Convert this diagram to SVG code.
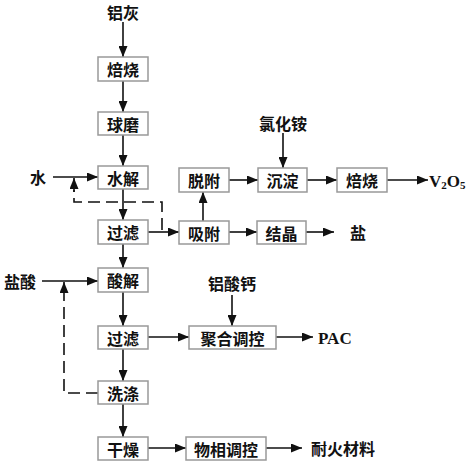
<svg xmlns="http://www.w3.org/2000/svg" width="474" height="464" viewBox="0 0 474 464">
<style>
.box{fill:#fff;stroke:#999;stroke-width:1.5}
.t{font-family:"Noto Sans CJK SC","Noto Sans",sans-serif;font-size:16px;font-weight:bold;fill:#111;text-anchor:middle;dominant-baseline:central}
.s{font-family:"Liberation Serif",serif;font-size:17px;font-weight:bold;fill:#111;dominant-baseline:central}
.ln{stroke:#111;stroke-width:1.6;fill:none}
.ar{marker-end:url(#ah)}
.d{stroke-dasharray:12,6}
</style>
<defs>
<marker id="ah" markerWidth="11" markerHeight="9" refX="11" refY="4.5" orient="auto" markerUnits="userSpaceOnUse">
<path d="M0,0 L11,4.5 L0,9 Z" fill="#111"/>
</marker>
</defs>
<rect width="474" height="464" fill="#fff"/>
<g id="connectors">
<line class="ln ar" x1="123" y1="22" x2="123" y2="57"/>
<line class="ln ar" x1="123" y1="81" x2="123" y2="112"/>
<line class="ln ar" x1="123" y1="135" x2="123" y2="166"/>
<line class="ln ar" x1="53" y1="177" x2="98" y2="177"/>
<line class="ln ar" x1="123" y1="189" x2="123" y2="220"/>
<line class="ln ar" x1="148" y1="232" x2="179" y2="232"/>
<polyline class="ln d" points="162,230 162,202 74,202 74,190"/>
<line class="ln ar" x1="74" y1="192" x2="74" y2="178"/>
<line class="ln ar" x1="203" y1="221" x2="203" y2="192"/>
<line class="ln ar" x1="229" y1="180" x2="258" y2="180"/>
<line class="ln ar" x1="283" y1="133" x2="283" y2="168"/>
<line class="ln ar" x1="307" y1="180" x2="337" y2="180"/>
<line class="ln ar" x1="387" y1="180" x2="428" y2="180"/>
<line class="ln ar" x1="229" y1="232" x2="257" y2="232"/>
<line class="ln ar" x1="306" y1="232" x2="334" y2="232"/>
<line class="ln ar" x1="123" y1="244" x2="123" y2="268"/>
<line class="ln ar" x1="42" y1="281" x2="98" y2="281"/>
<line class="ln ar" x1="123" y1="292" x2="123" y2="326"/>
<line class="ln ar" x1="148" y1="337" x2="189" y2="337"/>
<line class="ln ar" x1="232" y1="295" x2="232" y2="326"/>
<line class="ln ar" x1="276" y1="337" x2="313" y2="337"/>
<line class="ln ar" x1="123" y1="349" x2="123" y2="381"/>
<polyline class="ln d" points="98,393 64,393 64,296"/>
<line class="ln ar" x1="64" y1="296" x2="64" y2="282"/>
<line class="ln ar" x1="123" y1="404" x2="123" y2="437"/>
<line class="ln ar" x1="148" y1="448" x2="186" y2="448"/>
<line class="ln ar" x1="266" y1="448" x2="302" y2="448"/>
</g>
<g id="lvhui"><text class="t" x="123" y="12">铝灰</text></g>
<g id="beishao1"><rect class="box" x="98" y="57" width="50" height="24"/><text class="t" x="123" y="69">焙烧</text></g>
<g id="qiumo"><rect class="box" x="98" y="112" width="50" height="23"/><text class="t" x="123" y="123.5">球磨</text></g>
<g id="shui"><text class="t" x="38" y="177">水</text></g>
<g id="shuijie"><rect class="box" x="98" y="166" width="50" height="23"/><text class="t" x="123" y="177.5">水解</text></g>
<g id="guolv1"><rect class="box" x="98" y="220" width="50" height="24"/><text class="t" x="123" y="232">过滤</text></g>
<g id="xifu"><rect class="box" x="179" y="221" width="50" height="23"/><text class="t" x="204" y="232.5">吸附</text></g>
<g id="tuofu"><rect class="box" x="179" y="168" width="50" height="24"/><text class="t" x="204" y="180">脱附</text></g>
<g id="lvhuaan"><text class="t" x="283" y="123">氯化铵</text></g>
<g id="chendian"><rect class="box" x="258" y="168" width="49" height="24"/><text class="t" x="282.5" y="180">沉淀</text></g>
<g id="beishao2"><rect class="box" x="337" y="168" width="50" height="24"/><text class="t" x="362" y="180">焙烧</text></g>
<g id="v2o5"><text class="s" x="429" y="181">V<tspan font-size="11" dy="4">2</tspan><tspan dy="-4">O</tspan><tspan font-size="11" dy="4">5</tspan></text></g>
<g id="jiejing"><rect class="box" x="257" y="221" width="49" height="23"/><text class="t" x="281.5" y="232.5">结晶</text></g>
<g id="yan"><text class="t" x="358" y="232">盐</text></g>
<g id="yansuan"><text class="t" x="20" y="281">盐酸</text></g>
<g id="suanjie"><rect class="box" x="98" y="268" width="50" height="24"/><text class="t" x="123" y="280">酸解</text></g>
<g id="guolv2"><rect class="box" x="98" y="326" width="50" height="23"/><text class="t" x="123" y="337.5">过滤</text></g>
<g id="lvsuangai"><text class="t" x="232" y="283">铝酸钙</text></g>
<g id="juhe"><rect class="box" x="189" y="326" width="87" height="23"/><text class="t" x="232.5" y="337.5">聚合调控</text></g>
<g id="pac"><text class="s" x="318" y="338">PAC</text></g>
<g id="xidi"><rect class="box" x="98" y="381" width="50" height="23"/><text class="t" x="123" y="392.5">洗涤</text></g>
<g id="ganzao"><rect class="box" x="98" y="437" width="50" height="23"/><text class="t" x="123" y="448.5">干燥</text></g>
<g id="wuxiang"><rect class="box" x="186" y="437" width="80" height="23"/><text class="t" x="226" y="448.5">物相调控</text></g>
<g id="naihuo"><text class="t" x="343" y="448">耐火材料</text></g>
</svg>
